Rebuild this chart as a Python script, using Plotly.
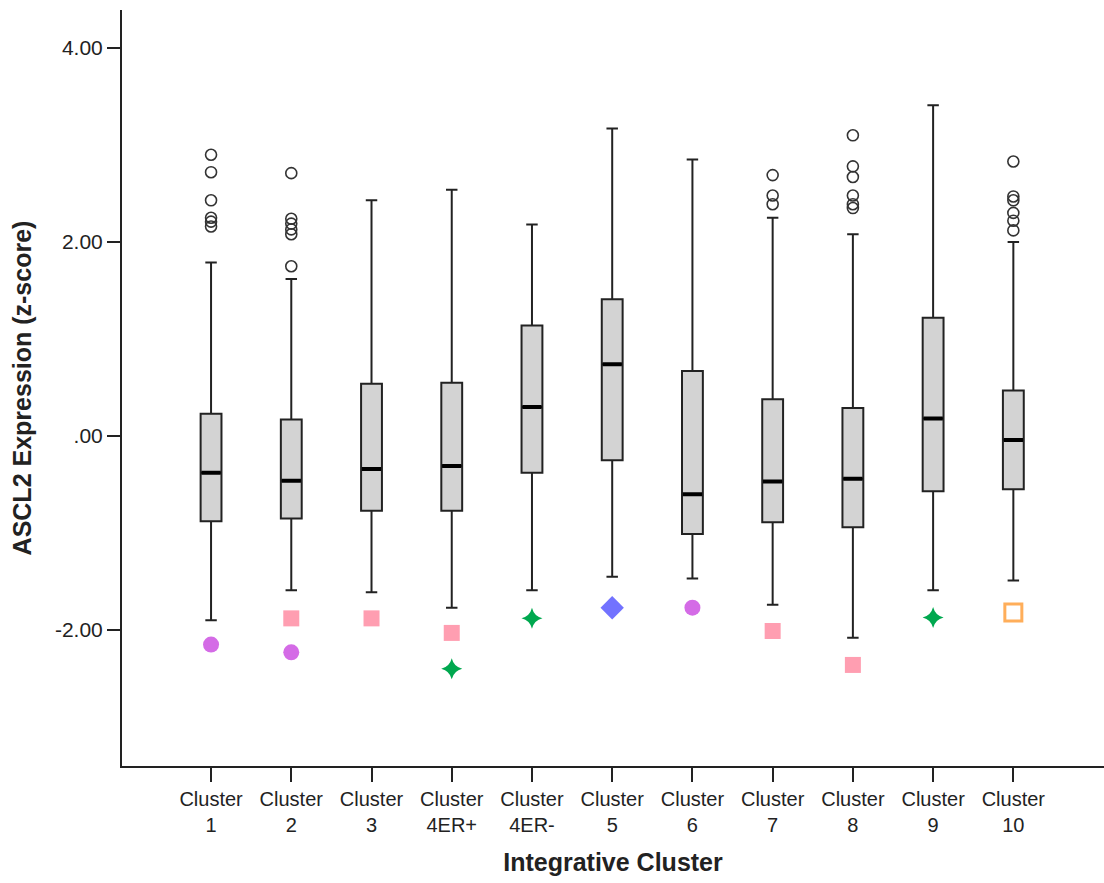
import plotly.graph_objects as go

# ---- data ----
categories = ["1", "2", "3", "4ER+", "4ER-", "5", "6", "7", "8", "9", "10"]
tick_labels = ["Cluster<br>" + c for c in categories]

q1 = [-0.88, -0.85, -0.77, -0.77, -0.38, -0.25, -1.01, -0.89, -0.94, -0.57, -0.55]
median = [-0.38, -0.46, -0.34, -0.31, 0.30, 0.74, -0.60, -0.47, -0.44, 0.18, -0.04]
q3 = [0.23, 0.17, 0.54, 0.55, 1.14, 1.41, 0.67, 0.38, 0.29, 1.22, 0.47]
lower_whisker = [-1.90, -1.59, -1.61, -1.77, -1.59, -1.45, -1.47, -1.74, -2.08, -1.59, -1.49]
upper_whisker = [1.79, 1.62, 2.43, 2.54, 2.18, 3.17, 2.85, 2.25, 2.08, 3.41, 2.00]

outliers = {
    "1": [2.90, 2.72, 2.43, 2.25, 2.21, 2.16],
    "2": [2.71, 2.24, 2.19, 2.13, 2.08, 1.75],
    "7": [2.69, 2.48, 2.39],
    "8": [3.10, 2.78, 2.67, 2.48, 2.39, 2.35],
    "10": [2.83, 2.47, 2.43, 2.30, 2.22, 2.12],
}

extreme_cat = ["1", "2", "2", "3", "4ER+", "4ER+", "4ER-", "5", "6", "7", "8", "9", "10"]
extreme_val = [-2.15, -1.88, -2.23, -1.88, -2.03, -2.40, -1.88, -1.77, -1.77, -2.01, -2.36, -1.87, -1.82]
extreme_kind = ["circle", "square", "circle", "square", "square", "star", "star",
                "diamond", "circle", "square", "square", "star", "open"]

y_tickvals = [-2, 0, 2, 4]
y_ticktext = ["-2.00", ".00", "2.00", "4.00"]

# ---- styles ----
kind_style = {
    "circle": dict(symbol="circle", size=16, color="#D46BE6", line=dict(width=0)),
    "square": dict(symbol="square", size=16, color="#FF9EB1", line=dict(width=0)),
    "star": dict(symbol="star-diamond", size=15, color="#00A84F", line=dict(width=0)),
    "diamond": dict(symbol="diamond", size=18, color="#7272FF", line=dict(width=0)),
    "open": dict(symbol="square-open", size=17, color="#FFAE5A", line=dict(width=3, color="#FFAE5A")),
}

FONT = "Liberation Sans, Arial, sans-serif"
BOXW = 0.26

fig = go.Figure()

fig.add_trace(go.Box(
    x=categories, q1=q1, median=median, q3=q3,
    lowerfence=lower_whisker, upperfence=upper_whisker,
    width=BOXW, whiskerwidth=0.55, boxpoints=False,
    fillcolor="#D3D3D3", line=dict(color="#222222", width=2),
    showlegend=False, hoverinfo="skip",
))

# thick median line
fig.add_trace(go.Box(
    x=categories, q1=median, median=median, q3=median,
    lowerfence=median, upperfence=median,
    width=BOXW - 0.02, whiskerwidth=0, boxpoints=False,
    fillcolor="rgba(0,0,0,0)", line=dict(color="#000000", width=4),
    showlegend=False, hoverinfo="skip",
))

# outliers (open circles)
ox, oy = [], []
for c, vals in outliers.items():
    ox += [c] * len(vals)
    oy += vals
fig.add_trace(go.Scatter(
    x=ox, y=oy, mode="markers",
    marker=dict(symbol="circle-open", size=11, color="#333333", line=dict(width=1.6, color="#333333")),
    showlegend=False, hoverinfo="skip",
))

# extreme markers
for kind, st in kind_style.items():
    xs = [c for c, k in zip(extreme_cat, extreme_kind) if k == kind]
    ys = [v for v, k in zip(extreme_val, extreme_kind) if k == kind]
    fig.add_trace(go.Scatter(
        x=xs, y=ys, mode="markers",
        marker=dict(symbol=st["symbol"], size=st["size"], color=st["color"], line=st["line"]),
        showlegend=False, hoverinfo="skip",
    ))

fig.update_layout(
    width=1104, height=883,
    margin=dict(l=122, r=0, t=10, b=117),
    paper_bgcolor="white", plot_bgcolor="white",
    boxmode="overlay",
    font=dict(family=FONT, color="#222222"),
    showlegend=False,
)

fig.update_xaxes(
    type="category",
    categoryorder="array", categoryarray=categories,
    tickvals=categories, ticktext=tick_labels,
    range=[-1.11, 11.13],
    showgrid=False, zeroline=False,
    showline=True, linecolor="#222222", linewidth=2,
    ticks="outside", ticklen=14, tickwidth=1.5, tickcolor="#222222",
    tickfont=dict(family=FONT, size=20, color="#222222"),
    title=dict(text="<b>Integrative Cluster</b>", font=dict(family=FONT, size=25, color="#222222"), standoff=18),
)

fig.update_yaxes(
    range=[-3.402, 4.392],
    tickvals=y_tickvals, ticktext=y_ticktext,
    showgrid=False, zeroline=False,
    showline=True, linecolor="#222222", linewidth=2,
    ticks="outside", ticklen=13, tickwidth=1.5, tickcolor="#222222",
    tickfont=dict(family=FONT, size=21, color="#222222"),
    title=dict(text="<b>ASCL2 Expression (z-score)</b>", font=dict(family=FONT, size=25, color="#222222"), standoff=16),
)

fig.write_html("out.html")
